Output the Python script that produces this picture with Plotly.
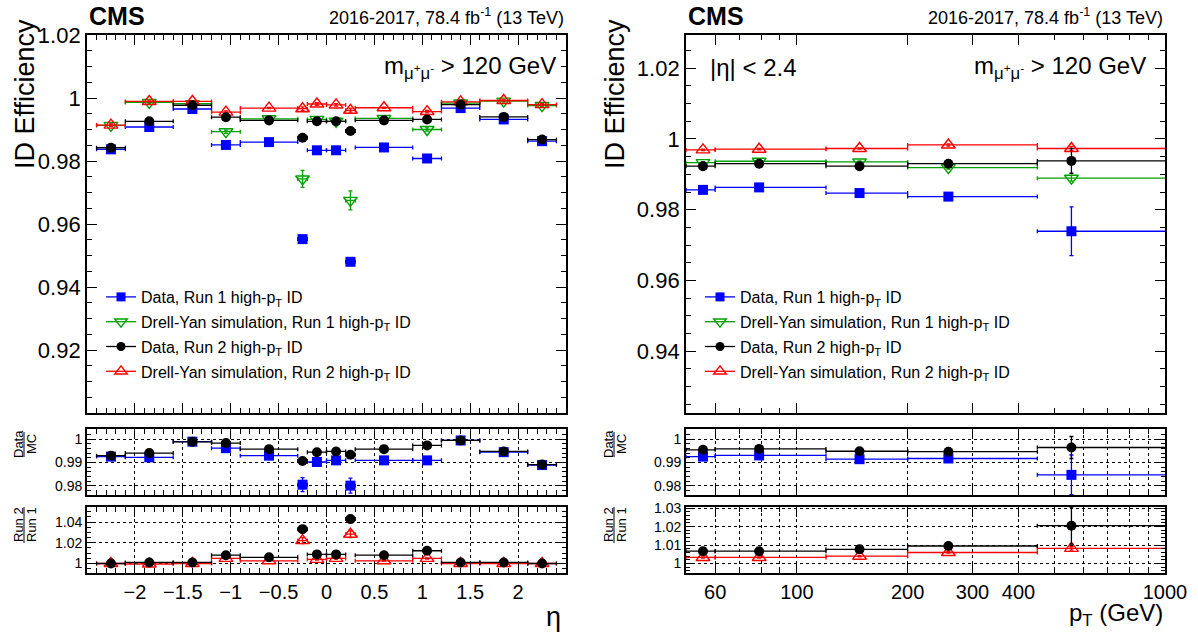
import plotly.graph_objects as go
import numpy as np

W, H = 1198, 637
FONT = "Liberation Sans, Arial, Helvetica, sans-serif"

# ---------------- eta binning ----------------
eta_center = [-2.25, -1.85, -1.4, -1.05, -0.6, -0.25, -0.1, 0.1, 0.25, 0.6, 1.05, 1.4, 1.85, 2.25]
eta_low = [-2.4, -2.1, -1.6, -1.2, -0.9, -0.3, -0.2, 0.0, 0.2, 0.3, 0.9, 1.2, 1.6, 2.1]
eta_high = [-2.1, -1.6, -1.2, -0.9, -0.3, -0.2, 0.0, 0.2, 0.3, 0.9, 1.2, 1.6, 2.1, 2.4]

eta_data_run1 = [0.9837, 0.9908, 0.9965, 0.9851, 0.9860, 0.9552, 0.9834, 0.9834, 0.9480, 0.9843, 0.9808, 0.9968, 0.9932, 0.9863]
eta_data_run1_err = [0.0004, 0.0003, 0.0003, 0.0004, 0.0003, 0.0008, 0.0005, 0.0005, 0.0008, 0.0003, 0.0004, 0.0003, 0.0003, 0.0004]
eta_mc_run1 = [0.9913, 0.9986, 0.9982, 0.9893, 0.9934, 0.9743, 0.9932, 0.9926, 0.9675, 0.9935, 0.9900, 0.9984, 0.9990, 0.9976]
eta_mc_run1_err = [0.0004, 0.0003, 0.0003, 0.0005, 0.0003, 0.0027, 0.0006, 0.0006, 0.0030, 0.0003, 0.0005, 0.0003, 0.0003, 0.0004]
eta_data_run2 = [0.9842, 0.9926, 0.9977, 0.9939, 0.9929, 0.9874, 0.9926, 0.9926, 0.9895, 0.9929, 0.9932, 0.9979, 0.9940, 0.9868]
eta_data_run2_err = [0.0003, 0.0002, 0.0002, 0.0003, 0.0002, 0.0004, 0.0003, 0.0003, 0.0004, 0.0002, 0.0003, 0.0002, 0.0002, 0.0003]
eta_mc_run2 = [0.9914, 0.9989, 0.9989, 0.9955, 0.9968, 0.9966, 0.9981, 0.9978, 0.9961, 0.9969, 0.9957, 0.9988, 0.9992, 0.9979]
eta_mc_run2_err = [0.0004, 0.0002, 0.0002, 0.0004, 0.0002, 0.0006, 0.0004, 0.0004, 0.0006, 0.0002, 0.0004, 0.0002, 0.0002, 0.0003]

eta_ratio_dm_run1 = [0.9925, 0.9922, 0.9989, 0.9961, 0.9929, 0.9805, 0.9902, 0.9909, 0.9801, 0.9909, 0.9909, 0.9994, 0.9944, 0.9889]
eta_ratio_dm_run1_err = [0.0005, 0.0004, 0.0004, 0.0006, 0.0004, 0.0030, 0.0007, 0.0007, 0.0032, 0.0004, 0.0006, 0.0004, 0.0004, 0.0005]
eta_ratio_dm_run2 = [0.9929, 0.9940, 0.9988, 0.9983, 0.9957, 0.9906, 0.9944, 0.9947, 0.9933, 0.9957, 0.9973, 0.9994, 0.9947, 0.9891]
eta_ratio_dm_run2_err = [0.0005, 0.0003, 0.0003, 0.0005, 0.0003, 0.0007, 0.0005, 0.0005, 0.0007, 0.0003, 0.0005, 0.0003, 0.0003, 0.0004]
eta_ratio_rr_data = [1.0000, 1.0010, 1.0010, 1.0080, 1.0060, 1.0332, 1.0088, 1.0088, 1.0429, 1.0080, 1.0123, 1.0010, 1.0010, 1.0000]
eta_ratio_rr_data_err = [0.0005, 0.0004, 0.0004, 0.0006, 0.0004, 0.0010, 0.0007, 0.0007, 0.0010, 0.0004, 0.0006, 0.0004, 0.0004, 0.0005]
eta_ratio_rr_mc = [1.0000, 0.9995, 1.0000, 1.0049, 1.0026, 1.0221, 1.0040, 1.0049, 1.0283, 1.0026, 1.0049, 1.0000, 1.0000, 1.0000]
eta_ratio_rr_mc_err = [0.0005, 0.0004, 0.0004, 0.0006, 0.0004, 0.0030, 0.0007, 0.0007, 0.0032, 0.0004, 0.0006, 0.0004, 0.0004, 0.0005]

# ---------------- pT binning ----------------
pt_center = [55.6, 79.0, 148.0, 258.0, 557.0]
pt_low = [50, 60, 120, 200, 450]
pt_high = [60, 120, 200, 450, 2000]

pt_data_run1 = [0.9856, 0.9863, 0.9847, 0.9837, 0.9739]
pt_data_run1_err = [0.0004, 0.0003, 0.0004, 0.0005, 0.0069]
pt_mc_run1 = [0.9933, 0.9937, 0.9935, 0.9919, 0.9889]
pt_mc_run1_err = [0.0003, 0.0002, 0.0003, 0.0004, 0.0008]
pt_data_run2 = [0.9923, 0.9930, 0.9923, 0.9930, 0.9938]
pt_data_run2_err = [0.0003, 0.0002, 0.0003, 0.0004, 0.0035]
pt_mc_run2 = [0.9969, 0.9971, 0.9973, 0.9983, 0.9973]
pt_mc_run2_err = [0.0002, 0.0002, 0.0002, 0.0003, 0.0006]

pt_ratio_dm_run1 = [0.9925, 0.9930, 0.9914, 0.9917, 0.9847]
pt_ratio_dm_run1_err = [0.0005, 0.0004, 0.0005, 0.0006, 0.0085]
pt_ratio_dm_run2 = [0.9954, 0.9958, 0.9948, 0.9946, 0.9964]
pt_ratio_dm_run2_err = [0.0004, 0.0003, 0.0004, 0.0005, 0.0047]
pt_ratio_rr_data = [1.0067, 1.0067, 1.0077, 1.0095, 1.0205]
pt_ratio_rr_data_err = [0.0005, 0.0004, 0.0005, 0.0006, 0.0100]
pt_ratio_rr_mc = [1.0033, 1.0033, 1.0040, 1.0060, 1.0082]
pt_ratio_rr_mc_err = [0.0003, 0.0003, 0.0003, 0.0004, 0.0009]

legend_labels = [
    "Data, Run 1 high-p<sub>T</sub> ID",
    "Drell-Yan simulation, Run 1 high-p<sub>T</sub> ID",
    "Data, Run 2 high-p<sub>T</sub> ID",
    "Drell-Yan simulation, Run 2 high-p<sub>T</sub> ID",
]

BLUE = "#0000ff"
GREEN = "#00a000"
BLACK = "#000000"
RED = "#ff0000"

STY = {
    "d1": dict(color=BLUE, symbol="square", size=10, lw=0),
    "m1": dict(color=GREEN, symbol="triangle-down-open", size=12, lw=1.4),
    "d2": dict(color=BLACK, symbol="circle", size=10, lw=0),
    "m2": dict(color=RED, symbol="triangle-up-open", size=12, lw=1.4),
}

fig = go.Figure()


def add_series(xc, xlo, xhi, y, yerr, key, xa, ya):
    s = STY[key]
    fig.add_trace(go.Scatter(
        x=xc, y=y, mode="markers", xaxis=xa, yaxis=ya, showlegend=False,
        marker=dict(symbol=s["symbol"], size=s["size"], color=s["color"],
                    line=dict(color=s["color"], width=s["lw"])),
        error_x=dict(type="data", symmetric=False,
                     array=[h - c for h, c in zip(xhi, xc)],
                     arrayminus=[c - l for c, l in zip(xc, xlo)],
                     color=s["color"], thickness=1.3, width=2),
        error_y=dict(type="data", array=yerr, color=s["color"], thickness=1.3, width=2),
        hoverinfo="skip",
    ))


# left panel
add_series(eta_center, eta_low, eta_high, eta_data_run1, eta_data_run1_err, "d1", "x", "y")
add_series(eta_center, eta_low, eta_high, eta_mc_run1, eta_mc_run1_err, "m1", "x", "y")
add_series(eta_center, eta_low, eta_high, eta_mc_run2, eta_mc_run2_err, "m2", "x", "y")
add_series(eta_center, eta_low, eta_high, eta_data_run2, eta_data_run2_err, "d2", "x", "y")
add_series(eta_center, eta_low, eta_high, eta_ratio_dm_run1, eta_ratio_dm_run1_err, "d1", "x2", "y2")
add_series(eta_center, eta_low, eta_high, eta_ratio_dm_run2, eta_ratio_dm_run2_err, "d2", "x2", "y2")
add_series(eta_center, eta_low, eta_high, eta_ratio_rr_mc, eta_ratio_rr_mc_err, "m2", "x3", "y3")
add_series(eta_center, eta_low, eta_high, eta_ratio_rr_data, eta_ratio_rr_data_err, "d2", "x3", "y3")

# right panel
add_series(pt_center, pt_low, pt_high, pt_data_run1, pt_data_run1_err, "d1", "x4", "y4")
add_series(pt_center, pt_low, pt_high, pt_mc_run1, pt_mc_run1_err, "m1", "x4", "y4")
add_series(pt_center, pt_low, pt_high, pt_mc_run2, pt_mc_run2_err, "m2", "x4", "y4")
add_series(pt_center, pt_low, pt_high, pt_data_run2, pt_data_run2_err, "d2", "x4", "y4")
add_series(pt_center, pt_low, pt_high, pt_ratio_dm_run1, pt_ratio_dm_run1_err, "d1", "x5", "y5")
add_series(pt_center, pt_low, pt_high, pt_ratio_dm_run2, pt_ratio_dm_run2_err, "d2", "x5", "y5")
add_series(pt_center, pt_low, pt_high, pt_ratio_rr_mc, pt_ratio_rr_mc_err, "m2", "x6", "y6")
add_series(pt_center, pt_low, pt_high, pt_ratio_rr_data, pt_ratio_rr_data_err, "d2", "x6", "y6")

# legend entries (two legends)
for leg, xa, ya in [("legend", "x", "y"), ("legend2", "x4", "y4")]:
    for key, lab in zip(["d1", "m1", "d2", "m2"], legend_labels):
        s = STY[key]
        fig.add_trace(go.Scatter(
            x=[None], y=[None], mode="lines+markers", xaxis=xa, yaxis=ya,
            name=lab, legend=leg, legendgroup=leg + key, showlegend=True,
            marker=dict(symbol=s["symbol"], size=s["size"] - 1, color=s["color"],
                        line=dict(color=s["color"], width=s["lw"])),
            line=dict(color=s["color"], width=1.3),
        ))


def px_x(p):
    return p / W


def px_y(p):
    return 1 - p / H


XL = [px_x(87), px_x(566)]
XR = [px_x(686), px_x(1165)]
Y_MAIN = [px_y(413), px_y(35)]
Y_R1 = [px_y(495), px_y(429)]
Y_R2 = [px_y(573), px_y(507)]


def base_axis(**kw):
    d = dict(showline=True, linecolor="black", linewidth=1.8, mirror="allticks",
             ticks="inside", tickcolor="black", tickwidth=1, zeroline=False,
             automargin=False, showgrid=False, tickfont=dict(family=FONT, color="black"))
    d.update(kw)
    return d


eta_major = [-2, -1.5, -1, -0.5, 0, 0.5, 1, 1.5, 2]
eta_major_txt = ["\u22122", "\u22121.5", "\u22121", "\u22120.5", "0", "0.5", "1", "1.5", "2"]
eta_minor = [round(v, 2) for v in np.arange(-2.4, 2.41, 0.1)]

pt_major = [60, 100, 200, 300, 400, 1000]
pt_major_txt = ["60", "100", "200", "300", "400", "1000"]
pt_minor = [70, 80, 90, 500, 600, 700, 800, 900]


def eta_xaxis(domain, anchor, labels, grid):
    return base_axis(domain=domain, anchor=anchor, range=[-2.5, 2.5],
                     tickmode="array", tickvals=eta_major, ticktext=eta_major_txt,
                     showticklabels=labels, ticklen=10, tickfont=dict(family=FONT, size=20, color="black"),
                     showgrid=grid, gridcolor="black", griddash="dot", gridwidth=1,
                     minor=dict(tickmode="array", tickvals=eta_minor, ticklen=5, ticks="inside", tickcolor="black"))


def pt_xaxis(domain, anchor, labels, grid):
    return base_axis(domain=domain, anchor=anchor, type="log", range=[np.log10(50), 3],
                     tickmode="array", tickvals=pt_major, ticktext=pt_major_txt,
                     showticklabels=labels, ticklen=10, tickfont=dict(family=FONT, size=20, color="black"),
                     showgrid=grid, gridcolor="black", griddash="dot", gridwidth=1,
                     minor=dict(tickmode="array", tickvals=pt_minor, ticklen=5, ticks="inside",
                                tickcolor="black", showgrid=grid, gridcolor="black", griddash="dot"))


def y_axis(domain, anchor, rng, major, major_txt, minor_dtick, size, grid, ticklen=10):
    return base_axis(domain=domain, anchor=anchor, range=rng, tickmode="array",
                     tickvals=major, ticktext=major_txt, ticklen=ticklen,
                     tickfont=dict(family=FONT, size=size, color="black"),
                     showgrid=grid, gridcolor="black", griddash="dot", gridwidth=1,
                     minor=dict(dtick=minor_dtick, tick0=1.0, ticklen=ticklen // 2, ticks="inside", tickcolor="black"))


LEG = dict(xanchor="left", yanchor="top", bgcolor="rgba(0,0,0,0)",
           font=dict(family=FONT, size=16, color="black"), tracegroupgap=1)

fig.update_layout(
    template="none",
    width=W, height=H, margin=dict(l=0, r=0, t=0, b=0, autoexpand=False),
    paper_bgcolor="white", plot_bgcolor="white",
    font=dict(family=FONT, color="black"),
    xaxis=eta_xaxis(XL, "y", False, False),
    yaxis=y_axis(Y_MAIN, "x", [0.90, 1.02], [0.92, 0.94, 0.96, 0.98, 1.0, 1.02],
                 ["0.92", "0.94", "0.96", "0.98", "1", "1.02"], 0.005, 22, False),
    xaxis2=eta_xaxis(XL, "y2", False, True),
    yaxis2=y_axis(Y_R1, "x2", [0.9761, 1.0043], [0.98, 0.99, 1.0], ["0.98", "0.99", "1"], 0.002, 14, True, 9),
    xaxis3=eta_xaxis(XL, "y3", True, True),
    yaxis3=y_axis(Y_R2, "x3", [0.9908, 1.0546], [1.0, 1.02, 1.04], ["1", "1.02", "1.04"], 0.005, 14, True, 9),
    xaxis4=pt_xaxis(XR, "y4", False, False),
    yaxis4=y_axis(Y_MAIN, "x4", [0.9225, 1.0294], [0.94, 0.96, 0.98, 1.0, 1.02],
                  ["0.94", "0.96", "0.98", "1", "1.02"], 0.005, 22, False),
    xaxis5=pt_xaxis(XR, "y5", False, True),
    yaxis5=y_axis(Y_R1, "x5", [0.9761, 1.0043], [0.98, 0.99, 1.0], ["0.98", "0.99", "1"], 0.002, 14, True, 9),
    xaxis6=pt_xaxis(XR, "y6", True, True),
    yaxis6=y_axis(Y_R2, "x6", [0.9949, 1.0306], [1.0, 1.01, 1.02, 1.03], ["1", "1.01", "1.02", "1.03"], 0.002, 14, True, 9),
    legend=dict(x=px_x(101), y=px_y(280), **LEG),
    legend2=dict(x=px_x(700), y=px_y(280), **LEG),
)

ann = []


def text(x, y, t, size, xanchor="left", yanchor="middle", angle=0):
    ann.append(dict(x=px_x(x), y=px_y(y), xref="paper", yref="paper", text=t,
                    showarrow=False, xanchor=xanchor, yanchor=yanchor, textangle=angle,
                    font=dict(family=FONT, size=size, color="black")))


lumi = "2016-2017, 78.4 fb<sup>-1</sup> (13 TeV)"
mass = "m<sub>\u03bc<sup>+</sup>\u03bc<sup>-</sup></sub> > 120 GeV"
for x0, x1 in [(87, 566), (686, 1165)]:
    text(x0, 16, "<b>CMS</b>", 25)
    text(x1, 17, lumi, 18, xanchor="right")
text(558, 67, mass, 24, xanchor="right")
text(1148, 67, mass, 24, xanchor="right")
text(708, 67, "|\u03b7| &lt; 2.4", 24)

for xc in [25, 615]:
    text(xc, 17, "ID Efficiency", 27, xanchor="center", yanchor="top", angle=-90)
    text(xc - 7, 444, "Data", 13, xanchor="center", angle=-90)
    text(xc + 6, 444, "MC", 13, xanchor="center", angle=-90)
    text(xc - 7, 525, "Run 2", 13, xanchor="center", angle=-90)
    text(xc + 6, 525, "Run 1", 13, xanchor="center", angle=-90)

text(563, 617, "\u03b7", 27, xanchor="right")
text(1165, 614, "p<sub>T</sub> (GeV)", 24, xanchor="right")

shapes = []
for xc in [25, 615]:
    shapes.append(dict(type="line", xref="paper", yref="paper", x0=px_x(xc - 1), x1=px_x(xc - 1),
                       y0=px_y(432), y1=px_y(457), line=dict(color="black", width=1)))
    shapes.append(dict(type="line", xref="paper", yref="paper", x0=px_x(xc - 1), x1=px_x(xc - 1),
                       y0=px_y(507), y1=px_y(543), line=dict(color="black", width=1)))

fig.update_layout(annotations=ann, shapes=shapes)
fig.write_html("out.html", config={"displayModeBar": False},
               post_script="document.body.style.margin='0px';document.body.style.overflow='hidden';")
